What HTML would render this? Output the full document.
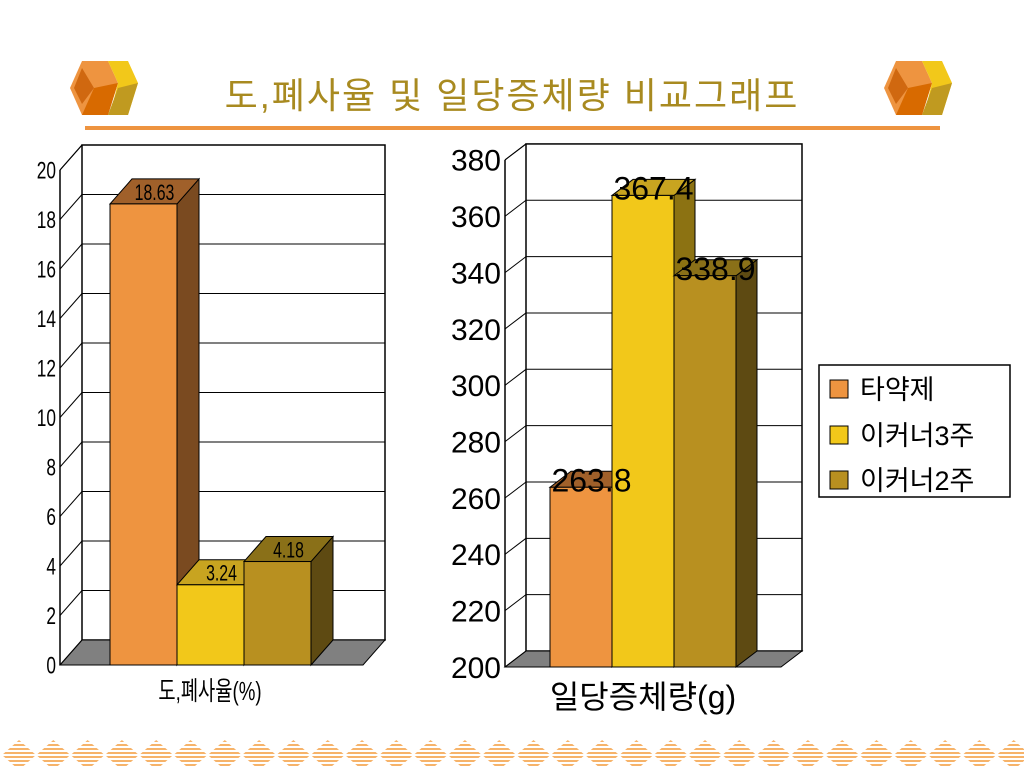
<!DOCTYPE html>
<html><head><meta charset="utf-8">
<style>
body{margin:0;background:#fff;}
svg{display:block;font-family:"Liberation Sans","Noto Sans CJK KR",sans-serif;}
</style></head>
<body>
<svg id="s" width="1024" height="768" viewBox="0 0 1024 768">
<defs>
<pattern id="stripe" width="4" height="4" patternUnits="userSpaceOnUse">
<rect width="4" height="4" fill="#fff"/><rect width="4" height="2" fill="#F6B36A"/>
</pattern>
</defs>
<g>
<polygon points="82,61 108,61 118,83 108,115 82,115 70,88" fill="#EE9440"/>
<polygon points="82,68 94,88 82,104 74,88" fill="#D06810"/>
<polygon points="94,88 118,83 108,115 82,115" fill="#D86A00"/>
<polygon points="108,61 128,61 138,83 128,115 110,115 118,83" fill="#F2C81A"/>
<polygon points="118,88 138,83 128,115 108,115" fill="#C09A20"/>
</g>
<g>
<polygon points="896,61 922,61 932,83 922,115 896,115 884,88" fill="#EE9440"/>
<polygon points="896,68 908,88 896,104 888,88" fill="#D06810"/>
<polygon points="908,88 932,83 922,115 896,115" fill="#D86A00"/>
<polygon points="922,61 942,61 952,83 942,115 924,115 932,83" fill="#F2C81A"/>
<polygon points="932,88 952,83 942,115 922,115" fill="#C09A20"/>
</g>
<text x="512" y="108" text-anchor="middle" font-size="36" fill="#A88A20" letter-spacing="2">도,폐사율 및 일당증체량 비교그래프</text>
<rect x="85" y="126" width="855" height="4" fill="#EE9440"/>
<g id="diamonds"></g>
<g id="left"></g>
<g id="right"></g>
<g>
<rect x="819" y="365" width="191" height="132" fill="#fff" stroke="#000" stroke-width="1.5"/>
<g><rect x="830" y="380" width="18" height="18" fill="#EE9440" stroke="#000"/><text x="860" y="399" font-size="27">타약제</text></g>
<g><rect x="830" y="426" width="18" height="18" fill="#F2C81A" stroke="#000"/><text x="860" y="445" font-size="27">이커너3주</text></g>
<g><rect x="830" y="471" width="18" height="18" fill="#B89020" stroke="#000"/><text x="860" y="490" font-size="27">이커너2주</text></g>
</g>
</svg>
<script>
const seriesNames = ["타약제","이커너3주","이커너2주"];
const leftValues = [18.63, 3.24, 4.18];
const leftLabels = ["18.63","3.24","4.18"];
const leftTicks = [0,2,4,6,8,10,12,14,16,18,20];
const rightValues = [263.8, 367.4, 338.9];
const rightLabels = ["263.8","367.4","338.9"];
const rightTicks = [200,220,240,260,280,300,320,340,360,380];

const NS="http://www.w3.org/2000/svg";
const fronts=["#EE9440","#F2C81A","#B89020"];
const tops=["#A0602A","#C8A420","#8A7018"];
const sides=["#7A4A20","#8C7212","#5E4A12"];
function mk(p,tag,a,t){const e=document.createElementNS(NS,tag);for(const k in a)e.setAttribute(k,a[k]);if(t!==undefined)e.textContent=t;p.appendChild(e);return e;}

function chart(g,o){
  const ys=v=>o.y0-(v-o.min)*o.scale;
  // back wall
  const bx=o.ax+o.dx, byTop=ys(o.max)+o.dy, byBot=o.y0+o.dy;
  let w=mk(g,'rect',{x:bx,y:byTop,width:o.wallR-bx,height:byBot-byTop,fill:'#fff',stroke:'#000','stroke-width':1.5});
  
  mk(g,'line',{x1:o.ax,y1:ys(o.max),x2:bx,y2:byTop,stroke:'#000'});
  mk(g,'line',{x1:o.ax,y1:ys(o.max),x2:o.ax,y2:o.y0,stroke:'#000','stroke-width':1.5});
  // floor
  const fl=mk(g,'polygon',{points:`${o.ax},${o.y0} ${o.wallR-o.dx},${o.y0} ${o.wallR},${byBot} ${bx},${byBot}`,fill:'#808080',stroke:'#000'});
  
  o.ticks.forEach(t=>{
    const y=ys(t);
    if(t!==o.min&&t!==o.max){const gl=mk(g,'line',{x1:bx,y1:y+o.dy,x2:o.wallR,y2:y+o.dy,stroke:'#000'});
      }
    mk(g,'line',{x1:o.ax,y1:y,x2:bx,y2:y+o.dy,stroke:'#000'});
    const tl=mk(g,'text',{x:o.ax-4,y:y+o.fs*0.36,'text-anchor':'end','font-size':o.fs,transform:o.sx?`translate(${o.ax-4},0) scale(${o.sx},1) translate(${-(o.ax-4)},0)`:''},String(t));
    
  });
  o.values.forEach((v,i)=>{
    const x=o.bx0+i*o.bw, y=ys(v);
    const bg=mk(g,'g',{});
    
    mk(bg,'polygon',{points:`${x+o.bw},${y} ${x+o.bw+o.dx},${y+o.dy} ${x+o.bw+o.dx},${o.y0+o.dy} ${x+o.bw},${o.y0}`,fill:sides[i],stroke:'#000'});
    mk(bg,'polygon',{points:`${x},${y} ${x+o.dx},${y+o.dy} ${x+o.bw+o.dx},${y+o.dy} ${x+o.bw},${y}`,fill:tops[i],stroke:'#000'});
    mk(bg,'rect',{x:x,y:y,width:o.bw,height:o.y0-y,fill:fronts[i],stroke:'#000'});
  });
  o.values.forEach((v,i)=>{
    const cx=o.bx0+i*o.bw+o.bw/2+o.dx/2, y=ys(v)+o.dy/2+o.lfs*0.38;
    const t=mk(g,'text',{x:cx,y:y,'text-anchor':'middle','font-size':o.lfs,transform:o.sx?`translate(${cx},0) scale(${o.sx},1) translate(${-cx},0)`:''},o.labels[i]);
    
  });
  const xt=mk(g,'text',{x:o.xlx,y:o.xly,'text-anchor':'middle','font-size':o.xfs,transform:o.sx?`translate(${o.xlx},0) scale(${o.sx},1) translate(${-o.xlx},0)`:''},o.xlabel);
  
}
chart(document.getElementById('left'),{ax:60,y0:665,min:0,max:20,scale:24.75,dx:22,dy:-25,wallR:385,
  ticks:leftTicks,values:leftValues,labels:leftLabels,bx0:110,bw:67,fs:24,lfs:22,sx:0.72,xlabel:"도,폐사율(%)",xlx:210,xly:700,xfs:26});
chart(document.getElementById('right'),{ax:505,y0:667,min:200,max:380,scale:2.817,dx:21,dy:-16,wallR:802,
  ticks:rightTicks,values:rightValues,labels:rightLabels,bx0:550,bw:62,fs:30,lfs:32,sx:0,xlabel:"일당증체량(g)",xlx:643,xly:708,xfs:32});
const dg=document.getElementById('diamonds');
for(let i=0;i<30;i++){const cx=19+i*34.3;
  const d=mk(dg,'polygon',{points:`${cx},740 ${cx+17},755 ${cx},770 ${cx-17},755`,fill:'url(#stripe)'});
  }
</script>
</body></html>
